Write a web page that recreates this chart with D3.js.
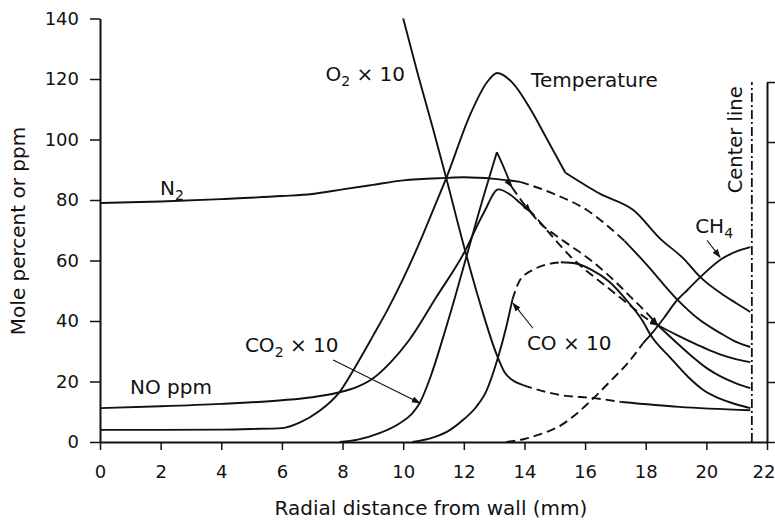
<!DOCTYPE html>
<html>
<head>
<meta charset="utf-8">
<script src="https://cdnjs.cloudflare.com/ajax/libs/d3/7.8.5/d3.min.js"></script>
<style>
  body { margin: 0; background: #fff; }
  svg text { font-family: "DejaVu Sans", sans-serif; fill: #111; }
</style>
</head>
<body>
<div id="chart"></div>
<script>
// ticks
const xTicks = [0, 2, 4, 6, 8, 10, 12, 14, 16, 18, 20, 22];
const yTicks = [0, 20, 40, 60, 80, 100, 120, 140];
const rightTicks = [0, 300, 600, 900, 1200, 1500, 1800];
const centerLineX = 21.5;

// series, [mm from wall, value]
const temperature = [[0,4],[2,4],[4,4.1],[5,4.3],[6,4.6],[6.6,6.5],[7.2,10],[7.9,16.5],[8.4,24.5],[9,35],[9.5,44],[10,54],[10.5,65],[11,77],[11.45,88],[12.2,108],[12.77,119],[13.1,122],[13.63,118.5],[14.2,110],[14.75,100],[15.35,89],[16.5,82],[17.6,76.6],[18.5,67],[19.24,60.7],[19.8,54.5],[20.5,49],[21,45.8],[21.45,43]];
const o2x10 = [[10,140],[10.5,121],[11,103],[11.4,88],[12.05,63],[12.5,47],[13.1,28.5],[13.35,23],[13.6,20.5],[13.96,18.8],[14.2,18],[15.2,15.5],[16.3,14.5],[17.2,13.2],[19.1,11.6],[21.45,10.5]];
const n2 = [[0,79],[2,79.5],[4,80.3],[6,81.3],[7,82],[8,83.5],[9,85],[10,86.5],[11.4,87.3],[12,87.5],[13,87],[13.86,86],[14.85,82.5],[16.07,76.6],[17.3,66.5],[18,59],[19.05,47],[19.7,41],[20.46,36],[21,33],[21.45,31.4]];
const noPpm = [[0,11.2],[2,11.8],[4,12.6],[6,13.8],[7,14.8],[7.8,16.2],[8.5,18.3],[9,21],[9.6,26.5],[10.2,33.7],[11.1,48],[12,62.4],[12.65,75.6],[13.14,83.5],[13.5,82],[13.86,79],[14.2,76],[14.5,72.5],[15,68.5],[15.5,65],[16.07,61],[16.5,57.5],[17,53],[17.5,48],[18,43],[18.4,38.6],[19,33],[19.5,28.5],[20,24.5],[20.5,21.5],[21,19.3],[21.45,17.8]];
const co2x10 = [[7.9,0],[8.5,0.8],[9.24,3],[9.9,6.3],[10.3,9.5],[10.55,13],[10.9,21.5],[11.3,34],[11.7,47.5],[12.05,60],[12.5,76],[13.09,95.8],[13.35,90],[13.58,84.3],[14,78.5],[14.4,74],[15,67],[15.5,61.5],[16,57],[16.5,53],[17,49],[17.5,45],[18,41],[18.4,38.6],[19,35.5],[19.6,32.6],[20,30.8],[20.5,28.8],[21,27.3],[21.45,26.4]];
const cox10 = [[10.3,0],[11,1.5],[11.55,4],[12,7.5],[12.4,11.5],[12.75,17],[13.1,27],[13.4,38],[13.6,47],[13.85,53.5],[14.3,57],[14.7,58.6],[15.2,59.4],[15.7,59],[16.2,57],[16.8,53],[17.4,46.5],[17.9,40],[18.15,35.5],[18.8,28],[19.4,21.5],[19.9,17.2],[20.4,14.5],[21,12.4],[21.45,11.2]];
const ch4 = [[13.4,0],[14,1],[14.5,2.5],[15.2,5.5],[15.7,9.2],[16.3,14.7],[16.9,20.8],[17.4,26],[17.9,32.5],[18.15,35.3],[18.6,41],[19,46.5],[19.4,50.5],[19.8,54.5],[20.5,60.5],[21,63],[21.45,64.4]];

// which parts are dashed, where the line has a corner
const series = [
  { data: temperature, dashed: [], sharp: [15.35] },
  { data: o2x10, dashed: [[13.96, 17.2]], sharp: [] },
  { data: n2, dashed: [[13.86, 17.3]], sharp: [] },
  { data: noPpm, dashed: [[14.2, 18.4]], sharp: [], arrows: true },
  { data: co2x10, dashed: [[13.58, 18.4]], sharp: [13.09], arrows: true },
  { data: cox10, dashed: [[13.6, 15.2]], sharp: [] },
  { data: ch4, dashed: [[13.4, 17.9]], sharp: [] }
];

const w = 775, h = 522;
const svg = d3.select("#chart").append("svg")
  .attr("width", w).attr("height", h)
  .style("background", "white");

const x = d3.scaleLinear().domain([0, 22]).range([100, 767]);
const y = d3.scaleLinear().domain([0, 140]).range([442, 18.5]);
const yRight = d3.scaleLinear().domain([0, 1800]).range([y(0), y(119)]);

// arrow head
svg.append("defs").append("marker")
  .attr("id", "arr")
  .attr("viewBox", "0 0 10 10")
  .attr("refX", 9).attr("refY", 5)
  .attr("markerWidth", 9).attr("markerHeight", 9)
  .attr("markerUnits", "userSpaceOnUse")
  .attr("orient", "auto")
  .append("path").attr("d", "M0,1.5L10,5L0,8.5Z").attr("fill", "#111");

// axes
const xAxis = svg.append("g")
  .attr("transform", `translate(0,${y(0)})`)
  .call(d3.axisBottom(x).tickValues(xTicks).tickSize(8).tickSizeOuter(0).tickPadding(15));
const yAxis = svg.append("g")
  .attr("transform", `translate(${x(0)},0)`)
  .call(d3.axisLeft(y).tickValues(yTicks).tickSize(10).tickSizeOuter(0).tickPadding(11));
const rAxis = svg.append("g")
  .attr("transform", `translate(${x(22)},0)`)
  .call(d3.axisRight(yRight).tickValues(rightTicks).tickSize(8).tickSizeOuter(0).tickFormat(""));

[xAxis, yAxis, rAxis].forEach(g => {
  g.select(".domain").attr("stroke", "#111").attr("stroke-width", 2);
  g.selectAll(".tick line").attr("stroke", "#111").attr("stroke-width", 1.5);
  g.selectAll(".tick text").attr("fill", "#111")
    .style("font-family", '"DejaVu Sans", sans-serif').style("font-size", "18px");
});
// last x label sits against the page edge
xAxis.selectAll(".tick text").filter(d => d === 22).attr("text-anchor", "end").attr("x", 8);

// center line
svg.append("line")
  .attr("x1", x(centerLineX)).attr("x2", x(centerLineX))
  .attr("y1", y(0)).attr("y2", yRight(1800))
  .attr("stroke", "#111").attr("stroke-width", 1.8)
  .attr("stroke-dasharray", "9,3,2,3");

// break a series where its style changes
function splitSegments(s) {
  const breaks = s.dashed.flat().concat(s.sharp);
  const segs = [];
  let cur = [s.data[0]];
  for (let i = 1; i < s.data.length; i++) {
    cur.push(s.data[i]);
    if (breaks.includes(s.data[i][0]) && i < s.data.length - 1) {
      segs.push(cur);
      cur = [s.data[i]];
    }
  }
  segs.push(cur);
  return segs.map(pts => {
    const mid = (pts[0][0] + pts[pts.length - 1][0]) / 2;
    return { pts, dashed: s.dashed.some(r => mid > r[0] && mid < r[1]) };
  });
}

const line = d3.line()
  .x(d => x(d[0]))
  .y(d => y(d[1]))
  .curve(d3.curveMonotoneX);

series.forEach(s => {
  splitSegments(s).forEach(seg => {
    const p = svg.append("path")
      .attr("d", line(seg.pts))
      .attr("fill", "none")
      .attr("stroke", "#111")
      .attr("stroke-width", 1.9)
      .attr("stroke-linejoin", "round");
    if (seg.dashed) {
      p.attr("stroke-dasharray", "9,5");
      if (s.arrows) p.attr("marker-start", "url(#arr)").attr("marker-end", "url(#arr)");
    }
  });
});

// leader arrows for labels: [from, to] in data units
const leaders = [
  [[7.69, 27.1], [10.55, 12.9]],
  [[14.28, 37.6], [13.62, 45.9]],
  [[20.02, 66.7], [20.45, 61.1]]
];
leaders.forEach(l => {
  svg.append("line")
    .attr("x1", x(l[0][0])).attr("y1", y(l[0][1]))
    .attr("x2", x(l[1][0])).attr("y2", y(l[1][1]))
    .attr("stroke", "#111").attr("stroke-width", 1.1)
    .attr("marker-end", "url(#arr)");
});

// labels: text parts [string, isSubscript]
const labels = [
  { parts: [["Temperature", false]], at: [14.22, 117.2], anchor: "start" },
  { parts: [["O", false], ["2", true], [" \u00d7 10", false]], at: [10.06, 119.2], anchor: "end" },
  { parts: [["N", false], ["2", true]], at: [1.98, 81.6], anchor: "start" },
  { parts: [["NO ppm", false]], at: [0.99, 15.85], anchor: "start" },
  { parts: [["CO", false], ["2", true], [" \u00d7 10", false]], at: [4.78, 29.7], anchor: "start" },
  { parts: [["CO \u00d7 10", false]], at: [14.08, 30.4], anchor: "start" },
  { parts: [["CH", false], ["4", true]], at: [19.63, 69.0], anchor: "start" }
];
labels.forEach(lb => {
  const t = svg.append("text")
    .attr("x", x(lb.at[0])).attr("y", y(lb.at[1]))
    .attr("text-anchor", lb.anchor)
    .style("font-size", "20px");
  let down = false;
  lb.parts.forEach(pt => {
    const ts = t.append("tspan").text(pt[0]);
    if (pt[1] && !down) { ts.attr("dy", 5).style("font-size", "14px"); down = true; }
    else if (!pt[1] && down) { ts.attr("dy", -5); down = false; }
  });
});

svg.append("text")
  .attr("transform", `translate(${x(21.18)},${y(82.2)}) rotate(-90)`)
  .style("font-size", "19.5px")
  .text("Center line");

// axis titles
svg.append("text")
  .attr("x", 431).attr("y", 515)
  .attr("text-anchor", "middle")
  .style("font-size", "20px")
  .text("Radial distance from wall (mm)");

svg.append("text")
  .attr("transform", "translate(25,231) rotate(-90)")
  .attr("text-anchor", "middle")
  .style("font-size", "20px")
  .text("Mole percent or ppm");
</script>
</body>
</html>
